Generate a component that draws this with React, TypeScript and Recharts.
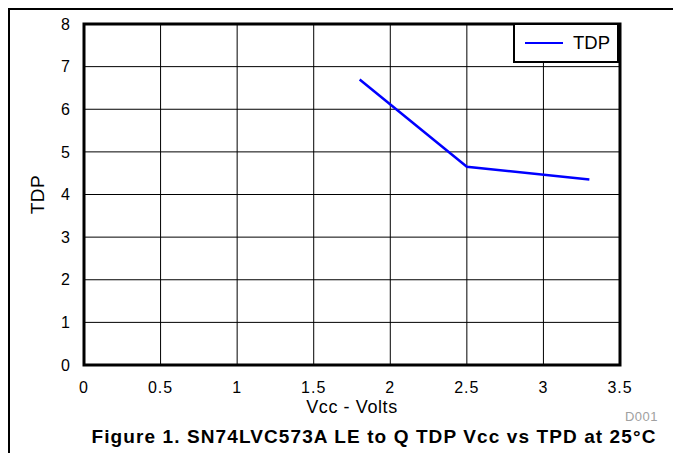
import { LineChart, Line, XAxis, YAxis, CartesianGrid, ReferenceArea, Label } from 'recharts';

const vcc = [1.8, 2.5, 3.3];
const tdp = [6.7, 4.65, 4.35];
const xTicks = [0, 0.5, 1, 1.5, 2, 2.5, 3, 3.5];
const yTicks = [0, 1, 2, 3, 4, 5, 6, 7, 8];

const data = vcc.map((v, i) => ({ vcc: v, tdp: tdp[i] }));

const font = 'Arial, "Liberation Sans", sans-serif';
const tickStyle = { fill: '#000', fontSize: 16, fontFamily: font, letterSpacing: 1 };

// legend drawn as an overlay so it doesn't push the plot down
function LegendBox() {
    return (
        <div style={{ position: 'absolute', left: 513, top: 23, width: 102, height: 36, border: '2.5px solid #000', background: '#fff', display: 'flex', alignItems: 'center' }}>
            <div style={{ width: 38, height: 2.5, background: '#0000ff', marginLeft: 10 }} />
            <span style={{ marginLeft: 10, fontFamily: font, fontSize: 18.5, color: '#000' }}>TDP</span>
        </div>
    );
}

export default function App() {
    return (
        <div style={{ position: 'absolute', left: 0, top: 0, width: 673, height: 453, background: '#fff', fontFamily: font }}>
            <div style={{ position: 'absolute', left: 8, top: 8, width: 665, height: 1.5, background: '#000' }} />
            <div style={{ position: 'absolute', left: 8, top: 8, width: 1.5, height: 445, background: '#000' }} />
            <LineChart width={673} height={453} data={data} margin={{ top: 24, right: 53, bottom: 58, left: 24 }}>
                <CartesianGrid stroke="#000" strokeWidth={1} horizontalValues={yTicks} verticalValues={xTicks} />
                <XAxis
                    type="number"
                    dataKey="vcc"
                    domain={[0, 3.5]}
                    ticks={xTicks}
                    height={30}
                    tickLine={false}
                    axisLine={false}
                    tickMargin={11}
                    tick={tickStyle}
                >
                    <Label value="Vcc - Volts" position="bottom" offset={5} style={{ fill: '#000', fontSize: 18, fontFamily: font, letterSpacing: 0.6 }} />
                </XAxis>
                <YAxis
                    type="number"
                    domain={[0, 8]}
                    ticks={yTicks}
                    width={60}
                    tickLine={false}
                    axisLine={false}
                    tickMargin={7}
                    tick={tickStyle}
                >
                    <Label value="TDP" angle={-90} position="center" dx={-17} style={{ fill: '#000', fontSize: 19, fontFamily: font, letterSpacing: 0.5 }} />
                </YAxis>
                <ReferenceArea x1={0} x2={3.5} y1={0} y2={8} fill="none" stroke="#000" strokeWidth={3} ifOverflow="visible" />
                <Line type="linear" dataKey="tdp" name="TDP" stroke="#0000ff" strokeWidth={2.5} dot={false} isAnimationActive={false} />
            </LineChart>
            <LegendBox />
            <div style={{ position: 'absolute', right: 15, top: 409, fontSize: 13, letterSpacing: 0.5, color: '#a0a0a0' }}>D001</div>
            <div style={{ position: 'absolute', left: 0, width: 748, top: 426, textAlign: 'center', fontSize: 19, fontWeight: 'bold', letterSpacing: 1.1, color: '#000', whiteSpace: 'nowrap' }}>
                Figure 1. SN74LVC573A LE to Q TDP Vcc vs TPD at 25°C
            </div>
        </div>
    );
}
